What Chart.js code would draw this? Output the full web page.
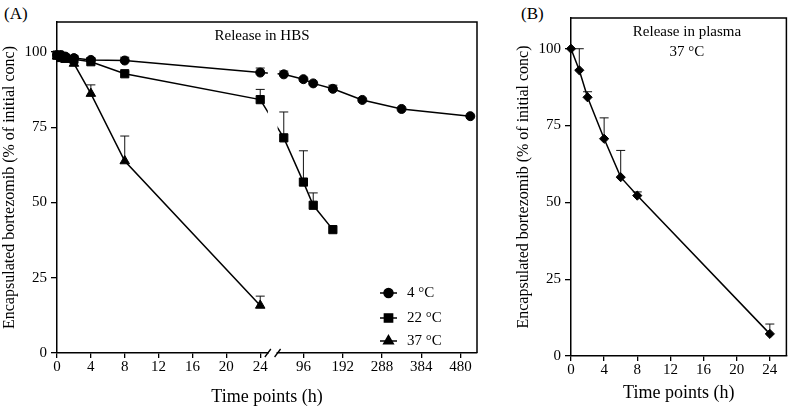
<!DOCTYPE html>
<html>
<head>
<meta charset="utf-8">
<script src="https://cdn.jsdelivr.net/npm/chart.js@4.4.0/dist/chart.umd.min.js"></script>
<style>
    html, body { margin: 0; padding: 0; background: #fff; }
    body { width: 792px; height: 412px; position: relative; overflow: hidden; font-family: "Liberation Serif", "Times New Roman", serif; }
    .panel { position: absolute; top: 0; }
    .tag { position: absolute; top: 4px; font-size: 17px; color: #000; }
</style>
</head>
<body>
<div class="tag" style="left:4px">(A)</div>
<div class="tag" style="left:521px">(B)</div>
<canvas id="hbsChart" class="panel" style="left:0px" width="500" height="412"></canvas>
<canvas id="plasmaChart" class="panel" style="left:510px" width="282" height="412"></canvas>
<script>
// ---- data (hours, % of initial conc, upward SD) ----
const hours4 = [0, 0.5, 1, 2, 4, 8, 24, 48, 96, 120, 168, 240, 336, 504];
const values4 = [99, 99, 98.5, 98, 97.4, 97.2, 93.2, 92.6, 91, 89.6, 87.8, 84.1, 81.1, 78.7];
const errors4 = [0, 0, 0, 0, 0.6, 1.1, 1.5, 1.1, 0, 0, 1.2, 0, 0, 0];

const hours22 = [0, 0.5, 1, 2, 4, 8, 24, 48, 96, 120, 168];
const values22 = [99, 98.2, 98, 97.6, 96.8, 92.8, 84.2, 71.5, 56.8, 49.1, 41];
const errors22 = [0, 0, 0, 0, 0.6, 0.6, 3.4, 8.6, 10.4, 4.1, 0];

const hours37 = [0, 0.5, 1, 2, 4, 8, 24];
const values37 = [98.6, 98, 97.5, 96.2, 86.2, 63.8, 15.8];
const errors37 = [0, 0, 0, 0, 2.9, 8.3, 3.1];

const hoursPlasma = [0, 1, 2, 4, 6, 8, 24];
const valuesPlasma = [100, 93, 84.2, 70.7, 58.2, 52.2, 7.2];
const errorsPlasma = [0, 7, 1.8, 6.8, 8.7, 1.2, 3.2];

const yTicks = [0, 25, 50, 75, 100];
const xTicksHBS = [0, 4, 8, 12, 16, 20, 24, 96, 192, 288, 384, 480];
const xTicksPlasma = [0, 4, 8, 12, 16, 20, 24];

const seriesNames = ['4 °C', '22 °C', '37 °C'];

// broken time axis: 0-24 h linear, then a compressed part from 96 h on
const SEG2_HOUR = 96;
const SEG2_AXIS = 29.1;
const SEG2_SCALE = 0.0483;
const BREAK_FROM = 24.9;
const BREAK_TO = 26.05;

function toAxis(h) {
    if (h <= 24) {
        return h;
    }
    return SEG2_AXIS + (h - SEG2_HOUR) * SEG2_SCALE;
}

function points(hours, values) {
    return hours.map((h, i) => ({ x: toAxis(h), y: values[i] }));
}

Chart.defaults.font.family = '"Liberation Serif", "Times New Roman", serif';
Chart.defaults.color = '#000';
Chart.defaults.animation = false;

const errorBars = {
    id: 'errorBars',
    beforeDatasetsDraw(chart) {
        const ctx = chart.ctx;
        const yScale = chart.scales.y;
        ctx.save();
        ctx.strokeStyle = '#111';
        ctx.lineWidth = 1;
        chart.data.datasets.forEach((ds, i) => {
            const meta = chart.getDatasetMeta(i);
            meta.data.forEach((pt, j) => {
                const e = ds.errors[j];
                if (!e) {
                    return;
                }
                const top = yScale.getPixelForValue(ds.data[j].y + e);
                ctx.beginPath();
                ctx.moveTo(pt.x, pt.y);
                ctx.lineTo(pt.x, top);
                ctx.moveTo(pt.x - 4.5, top);
                ctx.lineTo(pt.x + 4.5, top);
                ctx.stroke();
            });
        });
        ctx.restore();
    }
};

const frame = {
    id: 'frame',
    afterDatasetsDraw(chart, args, opts) {
        const ctx = chart.ctx;
        const a = chart.chartArea;
        ctx.save();

        if (opts.axisBreak) {
            const x = chart.scales.x;
            const x1 = x.getPixelForValue(BREAK_FROM);
            const x2 = x.getPixelForValue(BREAK_TO);
            ctx.fillStyle = '#fff';
            ctx.fillRect(x1, a.top + 1, x2 - x1, a.bottom - a.top - 2);
            ctx.fillRect(x1 + 1, a.bottom - 2, x2 - x1 - 2, 4);
            ctx.strokeStyle = '#000';
            ctx.lineWidth = 1.3;
            ctx.beginPath();
            [x1, x2].forEach(px => {
                ctx.moveTo(px - 3, a.bottom + 4);
                ctx.lineTo(px + 3, a.bottom - 4);
            });
            ctx.stroke();
        }

        ctx.strokeStyle = '#000';
        ctx.lineWidth = 1.5;
        ctx.beginPath();
        ctx.moveTo(a.left, a.top);
        ctx.lineTo(a.right, a.top);
        ctx.lineTo(a.right, a.bottom);
        ctx.stroke();

        ctx.fillStyle = '#000';
        ctx.font = '15px "Liberation Serif", "Times New Roman", serif';
        ctx.textAlign = 'center';
        ctx.textBaseline = 'middle';
        opts.lines.forEach((line, i) => {
            ctx.fillText(line, opts.x, opts.y[i]);
        });

        if (opts.legend) {
            const lg = opts.legend;
            chart.data.datasets.forEach((ds, i) => {
                const y = lg.y[i];
                ctx.strokeStyle = '#000';
                ctx.lineWidth = 1.5;
                ctx.beginPath();
                ctx.moveTo(lg.x, y);
                ctx.lineTo(lg.x + 17, y);
                ctx.stroke();
                ctx.fillStyle = '#000';
                Chart.helpers.drawPoint(ctx, {
                    pointStyle: ds.pointStyle,
                    radius: ds.pointRadius,
                    rotation: 0,
                    borderWidth: 1
                }, lg.x + 8.5, y);
                ctx.textAlign = 'left';
                ctx.fillText(ds.label, lg.x + 27, y);
            });
        }
        ctx.restore();
    }
};

function lineSet(label, hours, values, errors, style, radius) {
    return {
        label: label,
        data: points(hours, values),
        errors: errors,
        borderColor: '#000',
        backgroundColor: '#000',
        borderWidth: 1.5,
        pointStyle: style,
        pointRadius: radius,
        pointBorderWidth: 1,
        pointBackgroundColor: '#000',
        pointBorderColor: '#000',
        tension: 0,
        clip: false,
    };
}

function yAxis(width, titlePad) {
    return {
        min: 0,
        max: 110,
        afterFit(scale) {
            scale.width = width;
        },
        afterBuildTicks(scale) {
            scale.ticks = yTicks.map(v => ({ value: v }));
        },
        ticks: {
            font: { size: 15 },
            padding: 4,
            color: '#000',
        },
        grid: {
            drawOnChartArea: false,
            drawTicks: true,
            tickLength: 6,
            color: '#000',
            lineWidth: 1.3,
        },
        border: {
            color: '#000',
            width: 1.5,
        },
        title: {
            display: true,
            text: 'Encapsulated bortezomib (% of initial conc)',
            font: { size: 16 },
            color: '#000',
            padding: { top: titlePad, bottom: 0 },
        }
    };
}

function xAxis(max, tickHours, height, titlePad) {
    return {
        type: 'linear',
        min: 0,
        max: max,
        afterFit(scale) {
            scale.height = height;
        },
        afterBuildTicks(scale) {
            scale.ticks = tickHours.map(h => ({ value: toAxis(h) }));
        },
        ticks: {
            font: { size: 15 },
            padding: 0,
            color: '#000',
            autoSkip: false,
            maxRotation: 0,
            callback(value, index) {
                return String(tickHours[index]);
            }
        },
        grid: {
            drawOnChartArea: false,
            drawTicks: true,
            tickLength: 5,
            color: '#000',
            lineWidth: 1.3,
        },
        border: {
            color: '#000',
            width: 1.5,
        },
        title: {
            display: true,
            text: 'Time points (h)',
            font: { size: 18 },
            color: '#000',
            padding: { top: 0, bottom: titlePad },
        }
    };
}

new Chart(document.getElementById('hbsChart'), {
    type: 'line',
    data: {
        datasets: [
            lineSet(seriesNames[0], hours4, values4, errors4, 'circle', 4.5),
            lineSet(seriesNames[1], hours22, values22, errors22, 'rect', 5.8),
            lineSet(seriesNames[2], hours37, values37, errors37, 'triangle', 5.5),
        ]
    },
    options: {
        responsive: false,
        layout: {
            padding: { left: 0, top: 22, right: 23, bottom: 0 }
        },
        plugins: {
            legend: { display: false },
            tooltip: { enabled: false },
            frame: {
                lines: ['Release in HBS'],
                x: 262,
                y: [36],
                axisBreak: true,
                legend: { x: 380, y: [293, 318, 341] }
            }
        },
        scales: {
            x: xAxis(49.6, xTicksHBS, 59, 4),
            y: yAxis(57, 0),
        }
    },
    plugins: [errorBars, frame]
});

new Chart(document.getElementById('plasmaChart'), {
    type: 'line',
    data: {
        datasets: [
            lineSet('37 °C', hoursPlasma, valuesPlasma, errorsPlasma, 'rectRot', 4.6),
        ]
    },
    options: {
        responsive: false,
        layout: {
            padding: { left: 0, top: 18, right: 1, bottom: 0 }
        },
        plugins: {
            legend: { display: false },
            tooltip: { enabled: false },
            frame: {
                lines: ['Release in plasma', '37 °C'],
                x: 177,
                y: [32, 52],
                axisBreak: false,
                legend: null
            }
        },
        scales: {
            x: xAxis(26, xTicksPlasma, 56, 8),
            y: yAxis(61, 4),
        }
    },
    plugins: [errorBars, frame]
});
</script>
</body>
</html>
